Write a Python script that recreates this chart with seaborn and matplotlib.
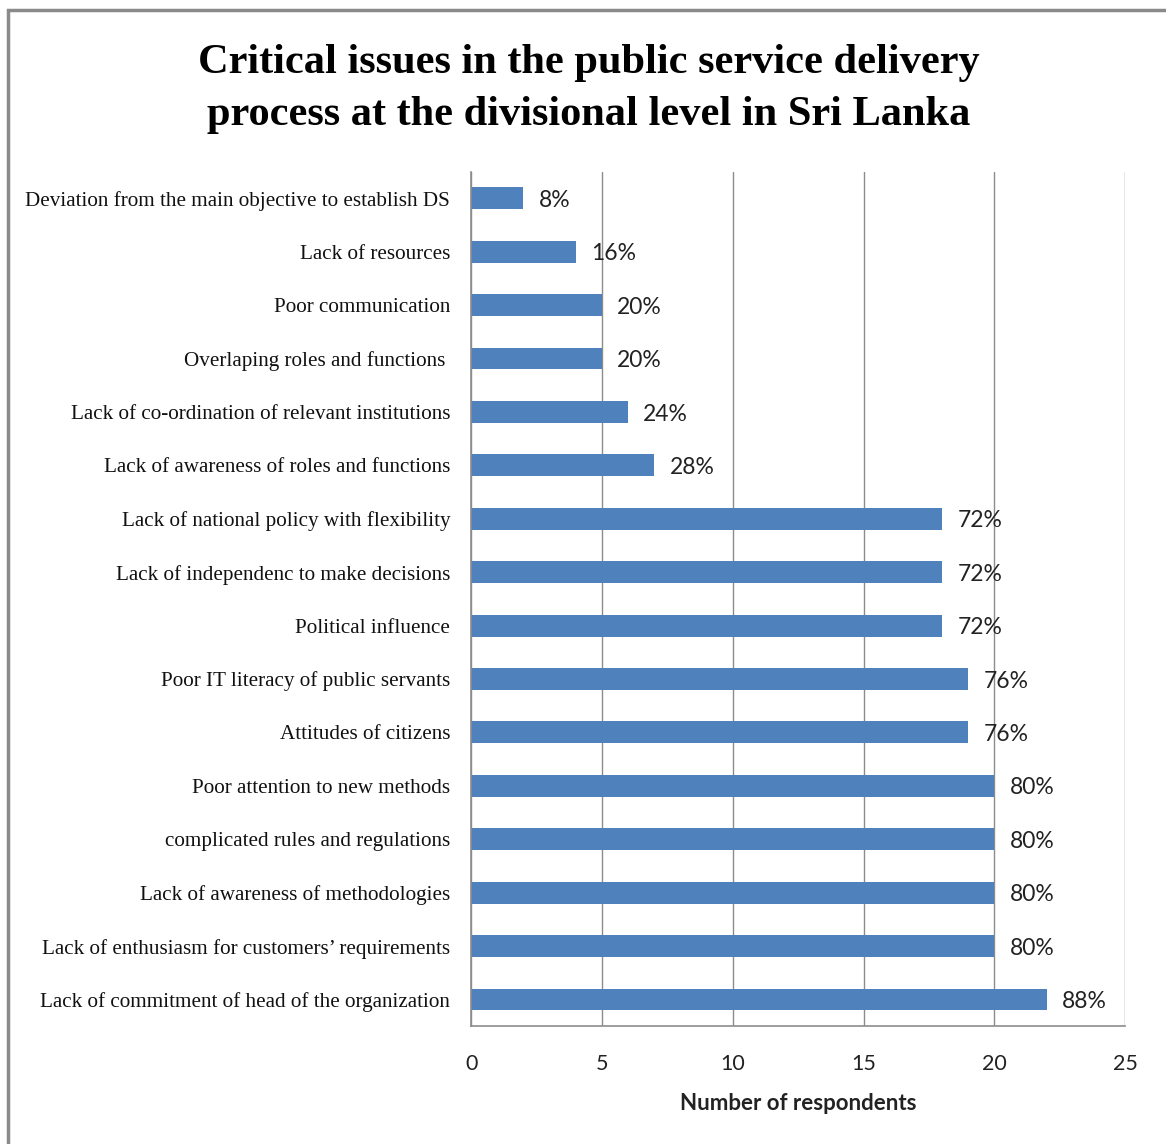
import matplotlib
matplotlib.use("Agg")
import matplotlib.pyplot as plt
import seaborn as sns
import pandas as pd
from matplotlib.patches import Rectangle

categories = [
    "Deviation from the main objective to establish DS",
    "Lack of resources",
    "Poor communication",
    "Overlaping roles and functions ",
    "Lack of co-ordination of relevant institutions",
    "Lack of awareness of roles and functions",
    "Lack of national policy with flexibility",
    "Lack of independenc to make decisions",
    "Political influence",
    "Poor IT literacy of public servants",
    "Attitudes of citizens",
    "Poor attention to new methods",
    "complicated rules and regulations",
    "Lack of awareness of methodologies",
    "Lack of enthusiasm for customers\u2019 requirements",
    "Lack of commitment of head of the organization",
]
respondents = [2, 4, 5, 5, 6, 7, 18, 18, 18, 19, 19, 20, 20, 20, 20, 22]
pct_labels = ["8%", "16%", "20%", "20%", "24%", "28%", "72%", "72%", "72%",
              "76%", "76%", "80%", "80%", "80%", "80%", "88%"]
x_ticks = [0, 5, 10, 15, 20, 25]

df = pd.DataFrame({"issue": categories, "n": respondents})

sns.set_theme(style="white")
plt.rcParams["font.family"] = ["DejaVu Sans"]

fig = plt.figure(figsize=(11.66, 11.44), dpi=100)
ax = fig.add_axes([0.404, 0.103, 0.561, 0.747])

sns.barplot(data=df, x="n", y="issue", orient="h", color="#4F81BD",
            saturation=1, width=0.41, ax=ax, order=categories,
            edgecolor="none", linewidth=0)

ax.set_xlim(0, 25)
ax.set_ylim(len(categories) - 0.5, -0.5)
ax.set_xticks(x_ticks)
ax.set_xticklabels([str(t) for t in x_ticks], family="Lato", fontsize=15.5, color="#222222")
ax.xaxis.grid(True, color="#8c8c8c", linewidth=1.0)
ax.set_axisbelow(True)

ax.set_yticks(range(len(categories)))
ax.set_yticklabels(categories, family="Liberation Serif", fontsize=15.2, color="#111111")
ax.set_yticks([i - 0.5 for i in range(len(categories) + 1)], minor=True)
ax.tick_params(axis="y", which="major", length=0, pad=15)
ax.tick_params(axis="y", which="minor", length=6, width=1, color="#8c8c8c", direction="out")
ax.tick_params(axis="x", which="major", length=7, width=1, color="#8c8c8c", direction="out", pad=13)

for s in ["top", "right"]:
    ax.spines[s].set_visible(False)
for s in ["left", "bottom"]:
    ax.spines[s].set_color("#8c8c8c")
    ax.spines[s].set_linewidth(1.2)

ax.set_xlabel("Number of respondents", family="Lato", fontsize=16, fontweight="bold",
              color="#222222", labelpad=14)
ax.set_ylabel("")

for i, (v, lab) in enumerate(zip(respondents, pct_labels)):
    ax.annotate(lab, xy=(v, i), xytext=(11, -1.5), textcoords="offset points",
                va="center", ha="left", family="Lato", fontsize=16.5, color="#222222")

fig.text(0.505, 0.922, "Critical issues in the public service delivery\nprocess at the divisional level in Sri Lanka",
         ha="center", va="center", family="Liberation Serif", fontsize=30.5,
         fontweight="bold", linespacing=1.5, color="#000000")

fig.patches.append(Rectangle((8 / 1166, -0.1), 1.2, 1 - 10 / 1144 + 0.1,
                             transform=fig.transFigure, fill=False,
                             edgecolor="#8a8a8a", linewidth=2.5))

fig.savefig("out.png", dpi=100, facecolor="white")
